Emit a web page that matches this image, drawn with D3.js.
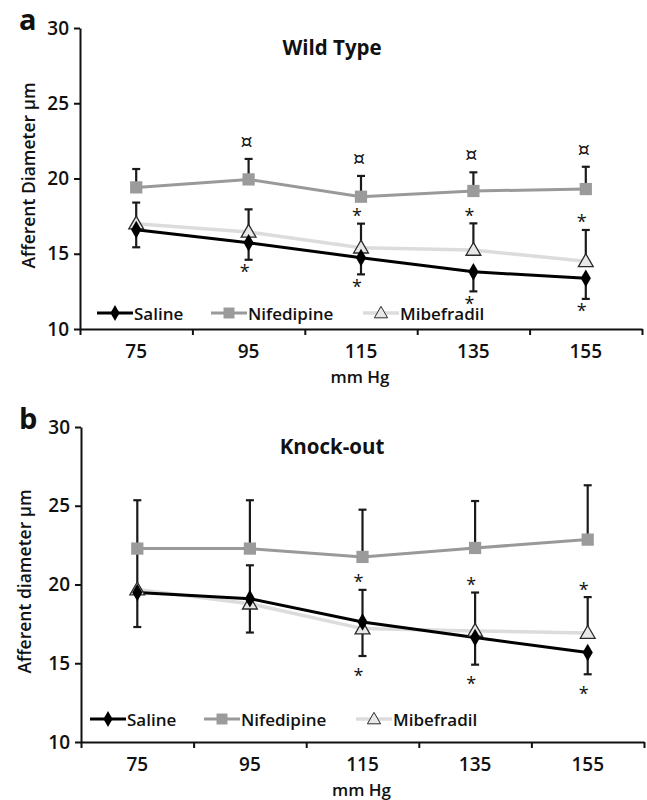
<!DOCTYPE html>
<html lang="en">
<head>
<meta charset="utf-8">
<title>Afferent diameter</title>
<style>
  body { margin: 0; background: #fff; }
  svg { display: block; }
  text { font-family: "Open Sans", "DejaVu Sans", sans-serif; fill: #111; }
  .tick text { font-size: 19px; font-weight: 600; }
  .axis path, .axis line { stroke: #111; stroke-width: 2; }
</style>
</head>
<body>
<div id="chart"></div>
<script src="https://cdn.jsdelivr.net/npm/d3@7"></script>
<script>
// pressure categories (mm Hg)
var pressures = ["75", "95", "115", "135", "155"];
var yTicks = [10, 15, 20, 25, 30];
var seriesNames = ["Saline", "Nifedipine", "Mibefradil"];

// panel a : wild type
var wtSaline    = [16.6, 15.73, 14.74, 13.8, 13.37];
var wtSalineErr = [1.17, 1.13, 1.11, 1.3, 1.37];
var wtNif       = [19.41, 19.94, 18.79, 19.17, 19.3];
var wtNifErr    = [1.22, 1.36, 1.38, 1.24, 1.48];
var wtMib       = [17.0, 16.45, 15.4, 15.25, 14.5];
var wtMibErr    = [1.4, 1.5, 1.6, 1.77, 2.08];
var wtStarAbove = [0, 0, 1, 1, 1];
var wtStarBelow = [0, 1, 1, 1, 1];
var wtCurrency  = [0, 1, 1, 1, 1];

// panel b : knock-out
var koSaline    = [19.49, 19.1, 17.62, 16.63, 15.68];
var koSalineErr = [2.19, 2.15, 2.16, 1.72, 1.38];
var koNif       = [22.28, 22.28, 21.75, 22.32, 22.85];
var koNifErr    = [3.07, 3.07, 3.0, 2.98, 3.45];
var koMib       = [19.68, 18.78, 17.2, 17.05, 16.92];
var koMibErr    = [2.6, 2.44, 2.46, 2.44, 2.28];
var koStarAbove = [0, 0, 1, 1, 1];
var koStarBelow = [0, 0, 1, 1, 1];
var koCurrency  = [0, 0, 0, 0, 0];

var styles = {
  "Saline":     {line: "#000", width: 3, sym: d3.symbolDiamond, size: 90, fill: "#000", stroke: "none", dir: -1},
  "Nifedipine": {line: "#999", width: 3, sym: d3.symbolSquare, size: 150, fill: "#9b9b9b", stroke: "none", dir: 1},
  "Mibefradil": {line: "#dcdcdc", width: 3.5, sym: d3.symbolTriangle, size: 95, fill: "#e8e8e8", stroke: "#2a2a2a", dir: 1}
};

var svg = d3.select("#chart").append("svg").attr("width", 647).attr("height", 800);

function drawPanel(p) {
  var x = d3.scaleBand().domain(pressures).range([p.x0, p.x1]);
  var y = d3.scaleLinear().domain([10, 30]).range([p.yBottom, p.yTop]);
  var g = svg.append("g");
  var cx = function(i) { return x(pressures[i]) + x.bandwidth() / 2; };

  // y axis
  g.append("g").attr("class", "axis").attr("transform", "translate(" + p.x0 + ",0)")
    .call(d3.axisLeft(y).tickValues(yTicks).tickSize(6).tickSizeOuter(0).tickPadding(5));
  // x axis: ticks at band edges, labels at centres
  var edges = d3.scaleLinear().domain([0, pressures.length]).range([p.x0, p.x1]);
  g.append("g").attr("class", "axis").attr("transform", "translate(0," + p.yBottom + ")")
    .call(d3.axisBottom(edges).tickValues(d3.range(pressures.length + 1)).tickFormat("").tickSize(6).tickSizeOuter(0));
  g.append("g").attr("class", "axis").attr("transform", "translate(0," + p.yBottom + ")")
    .call(d3.axisBottom(x).tickSize(0).tickPadding(16))
    .call(function(s) { s.select(".domain").remove(); });

  g.append("text").attr("x", (p.x0 + p.x1) / 2 - 1).attr("y", p.yBottom + 54)
    .attr("text-anchor", "middle").style("font-size", "17px").style("font-weight", 600).text("mm Hg");

  g.append("text").attr("transform", "translate(" + p.yTitleX + "," + ((p.yTop + p.yBottom) / 2 - 3) + ") rotate(-90)")
    .attr("text-anchor", "middle").style("font-size", "17.5px").style("font-weight", 600).text(p.yTitle);

  g.append("text").attr("x", 332).attr("y", p.yTop + 27).attr("text-anchor", "middle")
    .style("font-size", "20.5px").style("font-weight", 700).text(p.title);

  g.append("text").attr("x", 19).attr("y", p.yTop + 2).style("font-size", "29px").style("font-weight", 700).text(p.letter);

  var sets = [
    {name: "Nifedipine", v: p.nif, e: p.nifErr},
    {name: "Mibefradil", v: p.mib, e: p.mibErr},
    {name: "Saline", v: p.sal, e: p.salErr}
  ];

  var line = d3.line().x(function(d, i) { return cx(i); }).y(function(d) { return y(d); });
  sets.forEach(function(s) {
    g.append("path").datum(s.v).attr("d", line).attr("fill", "none")
      .attr("stroke", styles[s.name].line).attr("stroke-width", styles[s.name].width);
  });

  // error bars (one-sided)
  sets.forEach(function(s) {
    var dir = styles[s.name].dir;
    var eb = g.append("g").attr("stroke", "#1a1a1a").attr("stroke-width", 2.2);
    s.v.forEach(function(v, i) {
      var end = y(v + dir * s.e[i]);
      eb.append("line").attr("x1", cx(i)).attr("x2", cx(i)).attr("y1", y(v)).attr("y2", end);
      eb.append("line").attr("x1", cx(i) - 4).attr("x2", cx(i) + 4).attr("y1", end).attr("y2", end);
    });
  });

  sets.forEach(function(s) {
    var st = styles[s.name];
    var sym = d3.symbol().type(st.sym).size(st.size);
    g.append("g").selectAll("path").data(s.v).enter().append("path")
      .attr("d", sym)
      .attr("transform", function(d, i) {
        var dy = s.name === "Mibefradil" ? 1 : 0;
        return "translate(" + cx(i) + "," + (y(d) + dy) + ")";
      })
      .attr("fill", st.fill).attr("stroke", st.stroke).attr("stroke-width", 1.3);
  });

  // significance marks
  pressures.forEach(function(c, i) {
    if (p.starAbove[i]) {
      g.append("text").attr("x", cx(i) - 4).attr("y", y(p.mib[i] + p.mibErr[i]) - 11 + 9.5)
        .attr("text-anchor", "middle").style("font-size", "18px").text("*");
    }
    if (p.starBelow[i]) {
      g.append("text").attr("x", cx(i) - 4).attr("y", y(p.sal[i] - p.salErr[i]) + p.belowGap + 9.5)
        .attr("text-anchor", "middle").style("font-size", "18px").text("*");
    }
    if (p.currency[i]) {
      g.append("text").attr("x", cx(i) - 2).attr("y", y(p.nif[i] + p.nifErr[i]) - 17 + 6)
        .attr("text-anchor", "middle").style("font-family", "'DejaVu Sans', sans-serif")
        .style("font-size", "19px").style("font-weight", 400).text("\u00a4");
    }
  });

  // legend
  var offs = [0, 114, 266];
  seriesNames.forEach(function(n, k) {
    var st = styles[n];
    var lx = p.legendX + offs[k], ly = p.legendY;
    g.append("line").attr("x1", lx).attr("x2", lx + 36).attr("y1", ly).attr("y2", ly)
      .attr("stroke", st.line).attr("stroke-width", st.width);
    g.append("path").attr("d", d3.symbol().type(st.sym).size(st.size * 0.8))
      .attr("transform", "translate(" + (lx + 18) + "," + (ly + (n === "Mibefradil" ? 1 : 0)) + ")")
      .attr("fill", st.fill).attr("stroke", st.stroke).attr("stroke-width", 1);
    g.append("text").attr("x", lx + 37).attr("y", ly + 6.5).style("font-size", "17px").style("font-weight", 600).text(n);
  });
}

drawPanel({
  letter: "a", title: "Wild Type", yTitle: "Afferent Diameter \u00b5m",
  x0: 80, x1: 642, yTop: 28, yBottom: 329, yTitleX: 35,
  legendX: 97, legendY: 313, belowGap: 9,
  sal: wtSaline, salErr: wtSalineErr, nif: wtNif, nifErr: wtNifErr, mib: wtMib, mibErr: wtMibErr,
  starAbove: wtStarAbove, starBelow: wtStarBelow, currency: wtCurrency
});

drawPanel({
  letter: "b", title: "Knock-out", yTitle: "Afferent diameter \u00b5m",
  x0: 81, x1: 644, yTop: 427, yBottom: 742, yTitleX: 31,
  legendX: 90, legendY: 719, belowGap: 16,
  sal: koSaline, salErr: koSalineErr, nif: koNif, nifErr: koNifErr, mib: koMib, mibErr: koMibErr,
  starAbove: koStarAbove, starBelow: koStarBelow, currency: koCurrency
});
</script>
</body>
</html>
